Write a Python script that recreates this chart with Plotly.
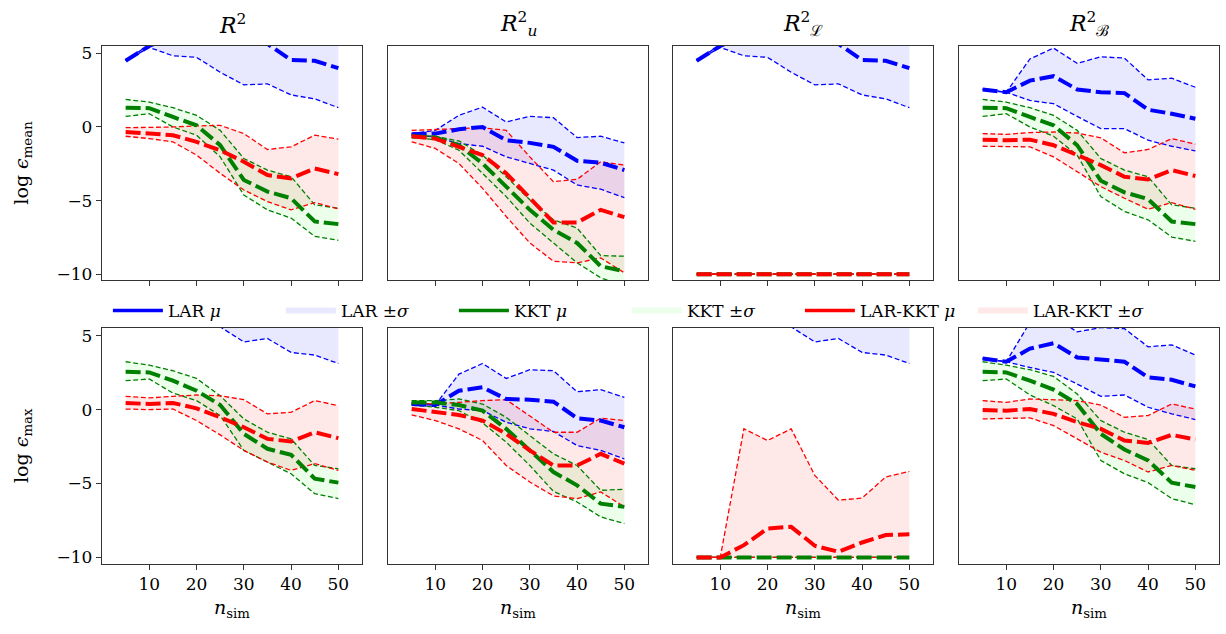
import plotly.graph_objects as go

# ---------------- data ----------------
N_SIM = [5, 10, 15, 20, 25, 30, 35, 40, 45, 50]
X_TICKS = [10, 20, 30, 40, 50]
Y_TICKS = [-10, -5, 0, 5]
COL_TITLES = ["<i>R</i><sup>2</sup>", "<i>R</i><sup>2</sup><sub><i>u</i></sub>",
              "<i>R</i><sup>2</sup><sub>ℒ</sub>", "<i>R</i><sup>2</sup><sub>ℬ</sub>"]
ROW_TITLES = ["log <i>ϵ</i><sub>mean</sub>", "log <i>ϵ</i><sub>max</sub>"]
METHODS = ["LAR", "KKT", "LAR-KKT"]

# ---- row 1 : log eps_mean ----
# R^2
LAR_MU_MEAN_R2 = [4.5, 5.5, 6.2, 6.5, 6.5, 6.3, 5.65, 4.55, 4.5, 4.0]
LAR_HI_MEAN_R2 = [4.5, 5.6, 7.56, 8.27, 9.28, 9.74, 8.37, 6.92, 7.09, 6.69]
LAR_LO_MEAN_R2 = [4.5, 5.4, 4.84, 4.73, 3.72, 2.86, 2.93, 2.18, 1.91, 1.31]
KKT_MU_MEAN_R2 = [1.31, 1.28, 0.68, 0.11, -1.24, -3.6, -4.39, -4.84, -6.42, -6.6]
KKT_HI_MEAN_R2 = [1.87, 1.69, 1.31, 0.79, -0.23, -2.14, -2.93, -3.38, -5.29, -5.52]
KKT_LO_MEAN_R2 = [0.72, 0.9, 0.0, -0.56, -2.03, -4.62, -5.63, -6.19, -7.43, -7.7]
LK_MU_MEAN_R2 = [-0.34, -0.45, -0.56, -1.01, -1.58, -2.36, -3.27, -3.49, -2.82, -3.2]
LK_HI_MEAN_R2 = [-0.05, -0.05, 0.0, 0.07, 0.11, -0.45, -1.53, -1.35, -0.56, -0.83]
LK_LO_MEAN_R2 = [-0.63, -0.79, -1.01, -1.91, -3.15, -4.28, -5.07, -5.63, -5.14, -5.56]
# R^2_u
LAR_MU_MEAN_RU = [-0.5, -0.45, -0.16, 0.0, -0.9, -1.08, -1.35, -2.3, -2.43, -2.93]
LAR_HI_MEAN_RU = [-0.45, -0.23, 0.79, 1.35, 0.34, 0.72, 0.63, -0.72, -0.63, -1.08]
LAR_LO_MEAN_RU = [-0.56, -0.68, -1.13, -1.31, -2.03, -2.48, -2.93, -3.94, -4.23, -4.8]
KKT_MU_MEAN_RU = [-0.63, -0.72, -1.24, -2.48, -4.05, -5.63, -6.98, -7.88, -9.46, -9.8]
KKT_HI_MEAN_RU = [-0.56, -0.63, -0.95, -1.91, -3.38, -4.95, -6.31, -6.87, -8.74, -8.78]
KKT_LO_MEAN_RU = [-0.72, -0.86, -1.58, -3.15, -4.73, -6.53, -7.88, -9.23, -10.25, -10.8]
LK_MU_MEAN_RU = [-0.63, -0.79, -1.35, -1.91, -3.15, -4.84, -6.49, -6.49, -5.63, -6.13]
LK_HI_MEAN_RU = [-0.23, -0.18, -0.11, -0.05, -0.23, -2.03, -3.72, -3.56, -2.36, -2.59]
LK_LO_MEAN_RU = [-1.01, -1.46, -2.48, -4.17, -6.08, -7.88, -9.12, -9.23, -8.9, -9.91]
# R^2_L
LAR_MU_MEAN_RL = [4.5, 5.5, 6.2, 6.5, 6.5, 6.3, 5.65, 4.55, 4.5, 4.0]
LAR_HI_MEAN_RL = [4.5, 5.6, 7.56, 8.27, 9.28, 9.74, 8.37, 6.92, 7.09, 6.69]
LAR_LO_MEAN_RL = [4.5, 5.4, 4.84, 4.73, 3.72, 2.86, 2.93, 2.18, 1.91, 1.31]
KKT_MU_MEAN_RL = [-10, -10, -10, -10, -10, -10, -10, -10, -10, -10]
KKT_HI_MEAN_RL = [-10, -10, -10, -10, -10, -10, -10, -10, -10, -10]
KKT_LO_MEAN_RL = [-10, -10, -10, -10, -10, -10, -10, -10, -10, -10]
LK_MU_MEAN_RL = [-10, -10, -10, -10, -10, -10, -10, -10, -10, -10]
LK_HI_MEAN_RL = [-10, -10, -10, -10, -10, -10, -10, -10, -10, -10]
LK_LO_MEAN_RL = [-10, -10, -10, -10, -10, -10, -10, -10, -10, -10]
# R^2_B
LAR_MU_MEAN_RB = [2.55, 2.36, 3.15, 3.45, 2.55, 2.36, 2.3, 1.17, 0.9, 0.56]
LAR_HI_MEAN_RB = [2.55, 2.36, 4.62, 5.36, 4.32, 4.77, 4.68, 3.2, 3.31, 2.7]
LAR_LO_MEAN_RB = [2.55, 2.36, 1.8, 1.58, 0.72, -0.11, -0.11, -0.9, -1.31, -1.62]
KKT_MU_MEAN_RB = [1.31, 1.28, 0.68, 0.11, -1.24, -3.65, -4.44, -4.9, -6.42, -6.6]
KKT_HI_MEAN_RB = [1.87, 1.69, 1.31, 0.79, -0.23, -2.14, -2.93, -3.38, -5.29, -5.52]
KKT_LO_MEAN_RB = [0.72, 0.9, 0.0, -0.63, -1.91, -4.73, -5.74, -6.31, -7.48, -7.77]
LK_MU_MEAN_RB = [-0.86, -0.9, -0.86, -1.24, -1.91, -2.59, -3.38, -3.56, -2.93, -3.33]
LK_HI_MEAN_RB = [-0.45, -0.5, -0.38, -0.34, -0.41, -0.74, -1.76, -1.53, -0.79, -1.17]
LK_LO_MEAN_RB = [-1.31, -1.35, -1.35, -2.03, -3.04, -4.05, -4.84, -5.59, -5.14, -5.59]

# ---- row 2 : log eps_max ----
# R^2
LAR_MU_MAX_R2 = [7.3, 7.9, 8.2, 8.3, 8.0, 7.8, 7.6, 6.9, 6.7, 6.3]
LAR_HI_MAX_R2 = [7.3, 8.4, 9.4, 10.0, 10.4, 11.0, 10.4, 9.9, 9.7, 9.5]
LAR_LO_MAX_R2 = [7.3, 7.4, 7.0, 6.6, 5.6, 4.58, 4.81, 3.87, 3.69, 3.12]
KKT_MU_MAX_R2 = [2.56, 2.52, 1.96, 1.28, 0.31, -1.64, -2.65, -3.06, -4.67, -4.94]
KKT_HI_MAX_R2 = [3.24, 3.01, 2.63, 2.11, 0.94, -0.63, -1.53, -1.98, -3.78, -4.0]
KKT_LO_MAX_R2 = [1.96, 2.07, 1.12, 0.61, -0.4, -2.76, -3.55, -4.34, -5.69, -6.02]
LK_MU_MAX_R2 = [0.45, 0.38, 0.45, 0.09, -0.52, -1.19, -1.98, -2.16, -1.53, -1.93]
LK_HI_MAX_R2 = [0.9, 0.79, 0.9, 0.99, 0.94, 0.67, -0.29, -0.18, 0.61, 0.27]
LK_LO_MAX_R2 = [0.04, 0.0, 0.04, -0.74, -1.71, -2.76, -3.55, -4.11, -3.66, -4.11]
# R^2_u
LAR_MU_MAX_RU = [0.38, 0.31, 1.28, 1.51, 0.72, 0.67, 0.54, -0.58, -0.74, -1.19]
LAR_HI_MAX_RU = [0.38, 0.31, 2.4, 3.12, 2.11, 2.7, 2.63, 1.21, 1.35, 0.83]
LAR_LO_MAX_RU = [0.38, 0.31, 0.04, -0.07, -0.85, -1.3, -1.48, -2.43, -2.76, -3.33]
KKT_MU_MAX_RU = [0.49, 0.49, 0.31, -0.07, -1.3, -2.76, -4.22, -5.12, -6.36, -6.58]
KKT_HI_MAX_RU = [0.61, 0.61, 0.72, 0.38, -0.52, -1.75, -2.99, -3.78, -5.46, -5.39]
KKT_LO_MAX_RU = [0.31, 0.16, -0.07, -0.9, -2.2, -3.78, -5.53, -6.25, -7.26, -7.71]
LK_MU_MAX_RU = [0.04, -0.13, -0.36, -0.74, -1.64, -2.76, -3.78, -3.78, -2.99, -3.66]
LK_HI_MAX_RU = [0.45, 0.38, 0.49, 0.61, 0.67, -0.4, -1.53, -1.53, -0.58, -0.74]
LK_LO_MAX_RU = [-0.36, -0.74, -1.3, -2.09, -3.78, -4.9, -5.84, -6.02, -5.57, -6.58]
# R^2_L
LAR_MU_MAX_RL = [7.3, 7.9, 8.2, 8.3, 8.0, 7.8, 7.6, 6.9, 6.7, 6.3]
LAR_HI_MAX_RL = [7.3, 8.4, 9.4, 10.0, 10.4, 11.0, 10.4, 9.9, 9.7, 9.5]
LAR_LO_MAX_RL = [7.3, 7.4, 7.0, 6.6, 5.6, 4.58, 4.81, 3.87, 3.69, 3.12]
KKT_MU_MAX_RL = [-10, -10, -10, -10, -10, -10, -10, -10, -10, -10]
KKT_HI_MAX_RL = [-10, -10, -10, -10, -10, -10, -10, -10, -10, -10]
KKT_LO_MAX_RL = [-10, -10, -10, -10, -10, -10, -10, -10, -10, -10]
LK_MU_MAX_RL = [-10, -10, -9.17, -8.04, -7.93, -9.21, -9.62, -8.99, -8.49, -8.43]
LK_HI_MAX_RL = [-10, -10, -1.3, -2.09, -1.3, -4.45, -6.13, -5.98, -4.56, -4.18]
LK_LO_MAX_RL = [-10, -10, -10, -10, -10, -10, -10, -10, -10, -10]
# R^2_B
LAR_MU_MAX_RB = [3.46, 3.24, 4.13, 4.49, 3.53, 3.37, 3.24, 2.18, 2.02, 1.57]
LAR_HI_MAX_RB = [3.46, 3.24, 5.9, 6.3, 5.26, 5.55, 5.48, 4.25, 4.38, 3.69]
LAR_LO_MAX_RB = [3.46, 3.24, 2.85, 2.52, 1.73, 0.9, 0.99, 0.16, -0.29, -0.67]
KKT_MU_MAX_RB = [2.56, 2.52, 1.96, 1.35, 0.38, -1.64, -2.7, -3.44, -4.94, -5.24]
KKT_HI_MAX_RB = [3.24, 3.01, 2.7, 2.25, 1.06, -0.74, -1.53, -2.02, -3.78, -4.0]
KKT_LO_MAX_RB = [1.96, 2.07, 0.99, 0.27, -0.63, -3.44, -4.34, -4.94, -6.02, -6.43]
LK_MU_MAX_RB = [-0.02, -0.07, 0.04, -0.29, -0.85, -1.3, -2.09, -2.25, -1.71, -2.02]
LK_HI_MAX_RB = [0.61, 0.49, 0.72, 0.67, 0.61, 0.31, -0.52, -0.4, 0.38, 0.04]
LK_LO_MAX_RB = [-0.63, -0.58, -0.56, -1.08, -1.98, -2.88, -3.44, -4.22, -3.78, -4.11]

PANELS = [
    [  # row 1
        [(LAR_MU_MEAN_R2, LAR_LO_MEAN_R2, LAR_HI_MEAN_R2), (KKT_MU_MEAN_R2, KKT_LO_MEAN_R2, KKT_HI_MEAN_R2), (LK_MU_MEAN_R2, LK_LO_MEAN_R2, LK_HI_MEAN_R2)],
        [(LAR_MU_MEAN_RU, LAR_LO_MEAN_RU, LAR_HI_MEAN_RU), (KKT_MU_MEAN_RU, KKT_LO_MEAN_RU, KKT_HI_MEAN_RU), (LK_MU_MEAN_RU, LK_LO_MEAN_RU, LK_HI_MEAN_RU)],
        [(LAR_MU_MEAN_RL, LAR_LO_MEAN_RL, LAR_HI_MEAN_RL), (KKT_MU_MEAN_RL, KKT_LO_MEAN_RL, KKT_HI_MEAN_RL), (LK_MU_MEAN_RL, LK_LO_MEAN_RL, LK_HI_MEAN_RL)],
        [(LAR_MU_MEAN_RB, LAR_LO_MEAN_RB, LAR_HI_MEAN_RB), (KKT_MU_MEAN_RB, KKT_LO_MEAN_RB, KKT_HI_MEAN_RB), (LK_MU_MEAN_RB, LK_LO_MEAN_RB, LK_HI_MEAN_RB)],
    ],
    [  # row 2
        [(LAR_MU_MAX_R2, LAR_LO_MAX_R2, LAR_HI_MAX_R2), (KKT_MU_MAX_R2, KKT_LO_MAX_R2, KKT_HI_MAX_R2), (LK_MU_MAX_R2, LK_LO_MAX_R2, LK_HI_MAX_R2)],
        [(LAR_MU_MAX_RU, LAR_LO_MAX_RU, LAR_HI_MAX_RU), (KKT_MU_MAX_RU, KKT_LO_MAX_RU, KKT_HI_MAX_RU), (LK_MU_MAX_RU, LK_LO_MAX_RU, LK_HI_MAX_RU)],
        [(LAR_MU_MAX_RL, LAR_LO_MAX_RL, LAR_HI_MAX_RL), (KKT_MU_MAX_RL, KKT_LO_MAX_RL, KKT_HI_MAX_RL), (LK_MU_MAX_RL, LK_LO_MAX_RL, LK_HI_MAX_RL)],
        [(LAR_MU_MAX_RB, LAR_LO_MAX_RB, LAR_HI_MAX_RB), (KKT_MU_MAX_RB, KKT_LO_MAX_RB, KKT_HI_MAX_RB), (LK_MU_MAX_RB, LK_LO_MAX_RB, LK_HI_MAX_RB)],
    ],
]

# ---------------- style ----------------
W, H = 1226, 634
FONT = "DejaVu Serif"
LINE_COL = ["#0000ff", "#008000", "#ff0000"]
FILL_COL = ["rgba(0,0,255,0.09)", "rgba(0,255,0,0.08)", "rgba(255,0,0,0.09)"]
AX_COL = "#333333"
COL_PX = [(102, 362), (388, 648), (673, 933), (959, 1219)]
ROW_PX = [(44, 281), (329, 567)]
X_RANGE = [0, 55]
Y_RANGE = [-10.42, 5.53]

fig = go.Figure()
layout = dict(width=W, height=H, margin=dict(l=0, r=0, t=0, b=0),
              paper_bgcolor="white", plot_bgcolor="white",
              font=dict(family=FONT, size=16, color="black"))

annotations = []
for r in range(2):
    for c in range(4):
        idx = r * 4 + c + 1
        xa = "x" if idx == 1 else f"x{idx}"
        ya = "y" if idx == 1 else f"y{idx}"
        xkey = "xaxis" if idx == 1 else f"xaxis{idx}"
        ykey = "yaxis" if idx == 1 else f"yaxis{idx}"
        x0, x1 = COL_PX[c]
        y0, y1 = ROW_PX[r]
        layout[xkey] = dict(
            domain=[x0 / W, x1 / W], range=X_RANGE, anchor=ya,
            tickmode="array", tickvals=X_TICKS,
            showticklabels=(r == 1), ticks="outside", ticklen=5, tickwidth=1.2,
            tickcolor=AX_COL, showline=True, linecolor=AX_COL, linewidth=1.3,
            mirror=True, showgrid=False, zeroline=False,
            tickfont=dict(family=FONT, size=17),
            title=dict(text="<i>n</i><sub>sim</sub>" if r == 1 else "",
                       font=dict(family=FONT, size=19), standoff=7),
        )
        layout[ykey] = dict(
            domain=[1 - y1 / H, 1 - y0 / H], range=Y_RANGE, anchor=xa,
            tickmode="array", tickvals=Y_TICKS,
            showticklabels=(c == 0), ticks="outside" if c == 0 else "",
            ticklen=5, tickwidth=1.2, tickcolor=AX_COL,
            showline=True, linecolor=AX_COL, linewidth=1.3, mirror=True,
            showgrid=False, zeroline=False,
            tickfont=dict(family=FONT, size=17),
            title=dict(text=ROW_TITLES[r] if c == 0 else "",
                       font=dict(family=FONT, size=19), standoff=22),
        )
        for m in range(3):
            mu, lo, hi = PANELS[r][c][m]
            fig.add_trace(go.Scatter(x=N_SIM, y=lo, xaxis=xa, yaxis=ya, mode="lines",
                                     line=dict(width=0, color=LINE_COL[m]),
                                     showlegend=False, hoverinfo="skip"))
            fig.add_trace(go.Scatter(x=N_SIM, y=hi, xaxis=xa, yaxis=ya, mode="none",
                                     fill="tonexty", fillcolor=FILL_COL[m],
                                     showlegend=False, hoverinfo="skip"))
        for m in range(3):
            mu, lo, hi = PANELS[r][c][m]
            for b in (lo, hi):
                fig.add_trace(go.Scatter(x=N_SIM, y=b, xaxis=xa, yaxis=ya, mode="lines",
                                         line=dict(width=1.3, color=LINE_COL[m], dash="5px,2.6px"),
                                         showlegend=False))
        for m in range(3):
            mu, lo, hi = PANELS[r][c][m]
            fig.add_trace(go.Scatter(x=N_SIM, y=mu, xaxis=xa, yaxis=ya, mode="lines",
                                     line=dict(width=4, color=LINE_COL[m], dash="15px,5px"),
                                     showlegend=False))
        if r == 0:
            annotations.append(dict(text=COL_TITLES[c], x=(x0 + x1) / 2 / W, y=1 - 22 / H,
                                    xref="paper", yref="paper", showarrow=False,
                                    xanchor="center", yanchor="middle",
                                    font=dict(family=FONT, size=22)))

# legend entries (solid lines and filled patches)
for m in range(3):
    fig.add_trace(go.Scatter(x=[None], y=[None], mode="lines", name=f"{METHODS[m]} <i>μ</i>",
                             line=dict(width=3.5, color=LINE_COL[m])))
    fig.add_trace(go.Scatter(x=[None, None], y=[None, None], mode="none", fill="toself",
                             fillcolor=FILL_COL[m], name=f"{METHODS[m]} ±<i>σ</i>"))

layout["annotations"] = annotations
layout["legend"] = dict(orientation="h", x=0.088, y=1 - 312 / H, xanchor="left", yanchor="middle",
                        font=dict(family=FONT, size=17), itemwidth=50, entrywidth=108,
                        bgcolor="rgba(0,0,0,0)", traceorder="normal")
layout["showlegend"] = True
fig.update_layout(**layout)
fig.write_html("out.html")
